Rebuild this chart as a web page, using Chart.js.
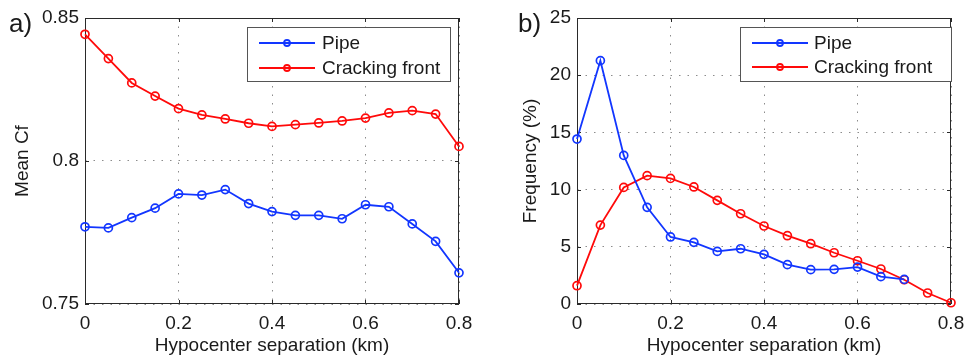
<!DOCTYPE html>
<html>
<head>
<meta charset="utf-8">
<script src="https://cdn.jsdelivr.net/npm/chart.js@4/dist/chart.umd.min.js"></script>
<style>
  html, body { margin: 0; padding: 0; background: #ffffff; }
  #wrap { position: relative; width: 965px; height: 358px; overflow: hidden; }
  #wrap canvas { position: absolute; top: 0; }
</style>
</head>
<body>
<div id="wrap">
  <canvas id="cfChart" width="482" height="358" style="left:0;width:482px;height:358px"></canvas>
  <canvas id="freqChart" width="483" height="358" style="left:482px;width:483px;height:358px"></canvas>
</div>
<script>
// Hypocenter separation bins (km)
const separationKm = [0, 0.05, 0.1, 0.15, 0.2, 0.25, 0.3, 0.35, 0.4, 0.45, 0.5, 0.55, 0.6, 0.65, 0.7, 0.75, 0.8];

// Panel a) mean Cf per separation bin
const pipeMeanCf  = [0.7770, 0.7766, 0.7802, 0.7835, 0.7885, 0.7881, 0.7900, 0.7851, 0.7823, 0.7810, 0.7810, 0.7798, 0.7847, 0.7840, 0.7780, 0.7719, 0.7609];
const crackMeanCf = [0.8443, 0.8358, 0.8273, 0.8227, 0.8183, 0.8161, 0.8147, 0.8132, 0.8121, 0.8127, 0.8133, 0.8140, 0.8150, 0.8168, 0.8176, 0.8164, 0.8051];

// Panel b) frequency (%) per separation bin (pipe stops at 0.7 km)
const pipeFreq  = [14.42, 21.27, 12.99, 8.45, 5.86, 5.39, 4.60, 4.83, 4.34, 3.44, 3.00, 3.03, 3.23, 2.39, 2.15];
const crackFreq = [1.60, 6.90, 10.19, 11.22, 10.98, 10.23, 9.06, 7.89, 6.82, 5.97, 5.27, 4.48, 3.78, 3.06, 2.12, 0.96, 0.11];

// Tick labels
const xTicks    = [0, 0.2, 0.4, 0.6, 0.8];
const cfTicks   = [0.75, 0.8, 0.85];
const freqTicks = [0, 5, 10, 15, 20, 25];

const seriesNames = ['Pipe', 'Cracking front'];
const seriesColors = ['#1236ff', '#ff0a0a'];

const FONT = "'Liberation Sans', Arial, Helvetica, sans-serif";
const TEXT = '#1a1a1a';
Chart.defaults.font.family = FONT;

function pairs(xs, ys) {
  return ys.map((v, i) => ({ x: xs[i], y: v }));
}

// Draws the axes box, inward tick marks, boxed legend and panel letter
const framePlugin = {
  id: 'frame',
  beforeDatasetsDraw(chart, args, o) {
    const { ctx, chartArea: a, scales: { x, y } } = chart;
    ctx.save();
    ctx.strokeStyle = '#2a2a2a';
    ctx.lineWidth = 1;
    ctx.strokeRect(Math.round(a.left) + 0.5, Math.round(a.top) + 0.5,
                   Math.round(a.width) - 1, Math.round(a.height) - 1);
    ctx.beginPath();
    x.ticks.forEach(t => {
      const px = Math.round(x.getPixelForValue(t.value)) + 0.5;
      ctx.moveTo(px, a.bottom); ctx.lineTo(px, a.bottom - 4);
      ctx.moveTo(px, a.top); ctx.lineTo(px, a.top + 4);
    });
    y.ticks.forEach(t => {
      const py = Math.round(y.getPixelForValue(t.value)) + 0.5;
      ctx.moveTo(a.left, py); ctx.lineTo(a.left + 4, py);
      ctx.moveTo(a.right, py); ctx.lineTo(a.right - 4, py);
    });
    ctx.stroke();
    ctx.restore();
  },
  afterDraw(chart, args, o) {
    const { ctx } = chart;
    ctx.save();
    // legend box
    const L = o.legend;
    ctx.fillStyle = '#ffffff';
    ctx.fillRect(L.x, L.y, L.w, L.h);
    ctx.strokeStyle = '#555555';
    ctx.lineWidth = 1;
    ctx.strokeRect(L.x + 0.5, L.y + 0.5, L.w, L.h);
    chart.data.datasets.forEach((ds, i) => {
      const ry = L.rows[i];
      ctx.strokeStyle = ds.borderColor;
      ctx.lineWidth = 1.8;
      ctx.beginPath();
      ctx.moveTo(L.lineX0, ry); ctx.lineTo(L.lineX1, ry);
      ctx.stroke();
      ctx.beginPath();
      ctx.arc((L.lineX0 + L.lineX1) / 2, ry, 3, 0, Math.PI * 2);
      ctx.stroke();
      ctx.fillStyle = TEXT;
      ctx.font = '19px ' + FONT;
      ctx.textBaseline = 'middle';
      ctx.textAlign = 'left';
      ctx.fillText(ds.label, L.textX, ry + 1);
    });
    // panel letter
    ctx.fillStyle = TEXT;
    ctx.font = '26px ' + FONT;
    ctx.textBaseline = 'alphabetic';
    ctx.textAlign = 'left';
    ctx.fillText(o.letter, o.letterX, o.letterY);
    ctx.restore();
  }
};

function makePanel(id, cfg) {
  const tickFont = { size: 19, family: FONT };
  const canvas = document.getElementById(id);
  return new Chart(canvas, {
    type: 'line',
    data: {
      datasets: cfg.series.map((ys, i) => ({
        label: seriesNames[i],
        data: pairs(separationKm, ys),
        borderColor: seriesColors[i],
        backgroundColor: 'rgba(0,0,0,0)',
        pointBackgroundColor: 'rgba(0,0,0,0)',
        pointBorderColor: seriesColors[i],
        pointBorderWidth: 1.7,
        pointRadius: 4,
        borderWidth: 1.8,
        tension: 0,
        clip: false
      }))
    },
    options: {
      responsive: false,
      animation: false,
      devicePixelRatio: 1,
      layout: { padding: { left: 0, top: 18, right: cfg.canvasW - cfg.plotRight, bottom: 0 } },
      plugins: {
        legend: { display: false },
        tooltip: { enabled: false },
        frame: { legend: cfg.legend, letter: cfg.letter, letterX: cfg.letterX, letterY: 32 }
      },
      scales: {
        x: {
          type: 'linear',
          min: xTicks[0],
          max: xTicks[xTicks.length - 1],
          afterBuildTicks: s => { s.ticks = xTicks.map(v => ({ value: v })); },
          afterFit: s => { s.height = 54; s.paddingLeft = 0; s.paddingRight = 0; },
          ticks: { font: tickFont, color: TEXT, padding: 8, maxRotation: 0, autoSkip: false, callback: v => String(v) },
          grid: { color: '#8c8c8c', lineWidth: 1, drawTicks: false },
          border: { display: false, dash: [1.5, 7] },
          title: { display: true, text: 'Hypocenter separation (km)', color: TEXT, font: { size: 19, family: FONT }, padding: { top: 0, bottom: 1 } }
        },
        y: {
          type: 'linear',
          min: cfg.yTicks[0],
          max: cfg.yTicks[cfg.yTicks.length - 1],
          afterBuildTicks: s => { s.ticks = cfg.yTicks.map(v => ({ value: v })); },
          afterFit: s => { s.width = cfg.plotLeft; s.paddingTop = 0; s.paddingBottom = 0; },
          ticks: { font: tickFont, color: TEXT, padding: 6, autoSkip: false, callback: v => String(v) },
          grid: { color: '#8c8c8c', lineWidth: 1, drawTicks: false },
          border: { display: false, dash: [1.5, 7] },
          title: { display: true, text: cfg.yTitle, color: TEXT, font: { size: 19, family: FONT }, padding: { top: cfg.yTitlePad, bottom: 0 } }
        }
      }
    },
    plugins: [framePlugin]
  });
}

makePanel('cfChart', {
  series: [pipeMeanCf, crackMeanCf],
  yTicks: cfTicks,
  yTitle: 'Mean Cf',
  canvasW: 482, plotLeft: 85, plotRight: 459, yTitlePad: 11,
  letter: 'a)', letterX: 9,
  legend: { x: 247, y: 27, w: 203, h: 54, lineX0: 259, lineX1: 315, textX: 322, rows: [43, 68] }
});

makePanel('freqChart', {
  series: [pipeFreq, crackFreq],
  yTicks: freqTicks,
  yTitle: 'Frequency (%)',
  canvasW: 483, plotLeft: 95, plotRight: 469, yTitlePad: 37,
  letter: 'b)', letterX: 36,
  legend: { x: 258, y: 27, w: 211, h: 54, lineX0: 270, lineX1: 326, textX: 332, rows: [43, 67] }
});
</script>
</body>
</html>
